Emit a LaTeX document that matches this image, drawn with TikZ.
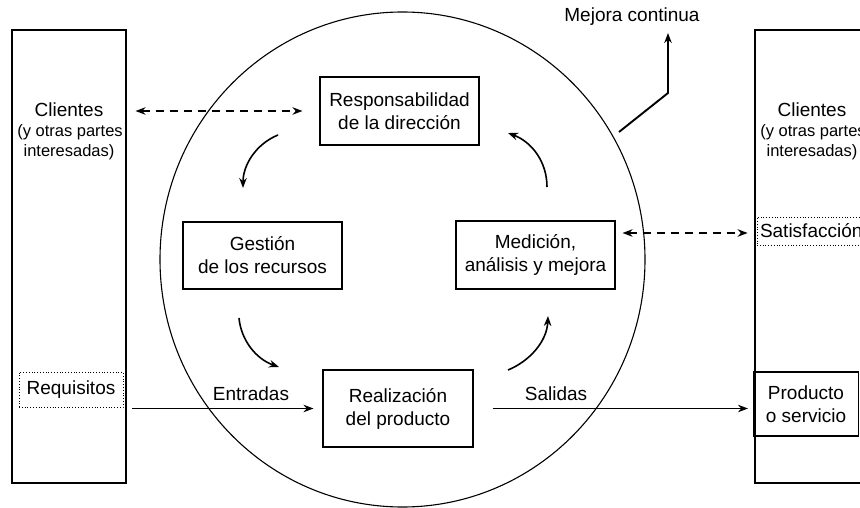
\documentclass[tikz,border=0pt]{standalone}
\usepackage{fontspec}
\setmainfont{Liberation Sans}
\usetikzlibrary{arrows.meta}
\begin{document}
\begin{tikzpicture}[x=1pt,y=-1pt,
  tip/.tip={Stealth[length=10pt,width=7.5pt]},
  main/.style={font=\fontsize{19}{23}\selectfont},
  minor/.style={font=\fontsize{16.5}{20}\selectfont},
  label/.style={main,inner sep=0pt,align=center},
  stepbox/.style={draw,line width=1.1pt,main,align=center,inner sep=0pt},
  party/.style={draw,line width=1.1pt,minimum width=114,minimum height=453,inner sep=0pt},
  dotbox/.style={draw,dotted,line width=0.8pt,main,inner sep=0pt},
  flow/.style={line width=1.9pt,-tip},
  link/.style={line width=1.9pt,dashed,dash pattern=on 8pt off 6pt,tip-tip},
  cycle/.style={line width=1.6pt,-tip},
]
\useasboundingbox (0,0) rectangle (860,508);
\clip (0,0) rectangle (860,508);

% process circle
\draw[line width=1.1pt] (402.5,259.5) ellipse [x radius=242.5, y radius=247.5];

% interested parties (left and right columns)
\node[party] (left) at (69,256.5) {};
\node[party] (right) at (812,256.5) {};
\node[label] (lc1) at (69,110) {Clientes};
\node[label,minor] (lc2) at (70,132) {(y otras partes};
\node[label,minor] (lc3) at (69,152) {interesadas)};
\node[label] (rc1) at (812,110) {Clientes};
\node[label,minor] (rc2) at (813,132) {(y otras partes};
\node[label,minor] (rc3) at (812,152) {interesadas)};

\node[dotbox,minimum width=104,minimum height=35] (req) at (71,389.5) {Requisitos};
\node[dotbox,minimum width=110,minimum height=28,text width=110,align=left] (sat) at (812,231) {\hspace{3pt}Satisfacción};
\node[stepbox,minimum width=105,minimum height=64] (prod) at (806,404) {Producto\\o servicio};

% process steps
\node[stepbox,minimum width=159,minimum height=68] (resp) at (399.5,111) {Responsabilidad\\de la dirección};
\node[stepbox,minimum width=159,minimum height=67] (gest) at (262.5,255.5) {Gestión\\de los recursos};
\node[stepbox,minimum width=159,minimum height=68] (med) at (535.5,255) {Medición,\\análisis y mejora};
\node[stepbox,minimum width=150,minimum height=77] (real) at (398,408.5) {Realización\\del producto};

% inputs and outputs
\draw[flow] ([xshift=9pt]req.east |- real.west) -- ([xshift=-9pt]real.west);
\draw[flow] ([xshift=19pt]real.east) -- ([xshift=-5pt]prod.west |- real.east);
\node[label] (in) at (251,394) {Entradas};
\node[label] (out) at (556,394) {Salidas};

% information exchange
\draw[link] ([xshift=9pt]left.east |- resp.west) -- ([xshift=-17pt]resp.west);
\draw[link] ([xshift=7pt]med.east |- 0,233) -- ([xshift=-9pt]sat.west |- 0,233);

% continual improvement
\coordinate (mc0) at (619,132);
\coordinate (mc1) at (668,93);
\node[label] (mejora) at (632,17) {Mejora continua};
\draw[flow] (mc0) -- (mc1) -- (668,33);

% cycle between the steps
\coordinate (c1a) at (278,135); \coordinate (c1b) at (243,188);
\coordinate (c2a) at (239,318); \coordinate (c2b) at (279,367);
\coordinate (c3a) at (508,370); \coordinate (c3b) at (548,316);
\coordinate (c4a) at (547,187); \coordinate (c4b) at (508,133);
\draw[cycle] (c1a) .. controls (256,144) and (243,165) .. (c1b);
\draw[cycle] (c2a) .. controls (241,340) and (256,359) .. (c2b);
\draw[cycle] (c3a) .. controls (530,361) and (547,341) .. (c3b);
\draw[cycle] (c4a) .. controls (547,162) and (532,142) .. (c4b);
\end{tikzpicture}
\end{document}
